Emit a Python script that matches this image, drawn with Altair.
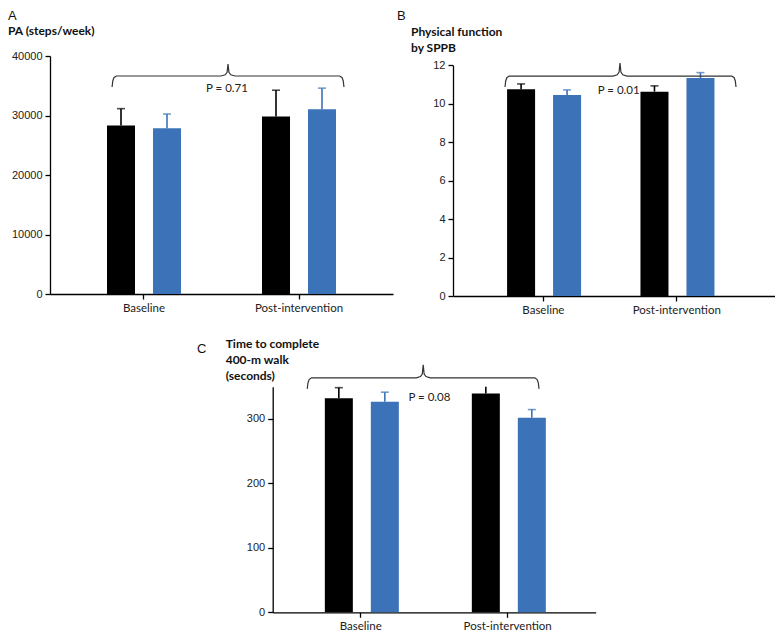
import altair as alt
import pandas as pd

# ---------------- data ----------------
categories = ["Baseline", "Post-intervention"]
groups = ["Group 1", "Group 2"]          # black, blue
bar_colors = ["#000000", "#3b72b8"]

# order: Baseline/G1, Baseline/G2, Post/G1, Post/G2
pa_values = [28300, 27850, 29850, 31050]
pa_err_top = [31150, 30250, 34250, 34600]
sppb_values = [10.75, 10.46, 10.63, 11.34]
sppb_err_top = [11.03, 10.72, 10.93, 11.62]
walk_values = [332, 326.5, 339.5, 302]
walk_err_top = [348.5, 341.5, 357, 314.5]

pa_ticks = [0, 10000, 20000, 30000, 40000]
sppb_ticks = [0, 2, 4, 6, 8, 10, 12]
walk_ticks = [0, 100, 200, 300]

# brace: x as fraction of axis width [left, mid, right]; y in data units [ends, line, peak]
pa_brace_x = [0.181, 0.519, 0.857]
pa_brace_y = [34790, 36640, 38660]
sppb_brace_x = [0.1615, 0.5186, 0.8789]
sppb_brace_y = [10.87, 11.44, 12.12]
walk_brace_x = [0.107, 0.466, 0.8245]
walk_brace_y = [346.7, 363.7, 383.8]

pa_p = ["P = 0.71", 0.516, 34450]
sppb_p = ["P = 0.01", 0.5146, 10.66]
walk_p = ["P = 0.08", 0.4854, 332]

# brace template: (u, weights over [end, line, peak])
tmpl_u = [0.0, 0.003, 0.008, 0.018, 0.47, 0.488, 0.496, 0.5]
tmpl_w = [(1, 0, 0), (0.45, 0.55, 0), (0.15, 0.85, 0), (0, 1, 0),
          (0, 1, 0), (0, 0.9, 0.1), (0, 0.7, 0.3), (0, 0, 1)]

TOTAL_W, TOTAL_H = 767, 626


def brace_df(bx, by):
    rows = []
    half = list(zip(tmpl_u, tmpl_w))
    full = half + [(1 - u, w) for u, w in reversed(half[:-1])]
    for i, (u, w) in enumerate(full):
        if u <= 0.5:
            x = bx[0] + (bx[1] - bx[0]) * (u / 0.5)
        else:
            x = bx[1] + (bx[2] - bx[1]) * ((u - 0.5) / 0.5)
        y = w[0] * by[0] + w[1] * by[1] + w[2] * by[2]
        rows.append({"i": i, "bx": x, "value": y})
    return pd.DataFrame(rows)


def panel(values, errs, domain, ticks, xrange, yrange, pi, po, align, sub_p,
          bx, by, ptxt):
    df = pd.DataFrame({
        "category": [categories[0], categories[0], categories[1], categories[1]],
        "group": [groups[0], groups[1], groups[0], groups[1]],
        "value": values,
        "err": errs,
    })
    ymax = domain[1]
    yscale = alt.Scale(domain=domain, nice=False, zero=True, range=yrange)
    yaxis = alt.Axis(title=None, values=ticks, format="d", orient="left",
                     offset=-xrange[0], labelFont="Liberation Sans",
                     labelFontSize=11, labelPadding=3, tickSize=5,
                     domainWidth=1.3, tickWidth=1.3)
    x = alt.X("category:N", sort=categories,
              scale=alt.Scale(paddingInner=pi, paddingOuter=po, align=align,
                              range=xrange),
              axis=alt.Axis(title=None, labelAngle=0, labelFont="Lato",
                            orient="bottom", offset=yrange[0] - TOTAL_H,
                            labelFontSize=11.5, tickSize=5, labelPadding=3,
                            domainWidth=1.3, tickWidth=1.3))
    xo = alt.XOffset("group:N", sort=groups,
                     scale=alt.Scale(paddingInner=sub_p, paddingOuter=0))
    color = alt.Color("group:N", scale=alt.Scale(domain=groups, range=bar_colors),
                      legend=None)
    base = alt.Chart(df).transform_calculate(
        err_shown=f"min(datum.err, {ymax})"
    ).encode(x=x, xOffset=xo, color=color)
    bars = base.mark_bar().encode(y=alt.Y("value:Q", scale=yscale, axis=yaxis))
    rule = base.mark_rule(strokeWidth=1.6).encode(
        y=alt.Y("value:Q", scale=yscale, axis=yaxis), y2="err_shown:Q")
    cap = base.mark_tick(size=8, thickness=1.6).encode(
        y=alt.Y("err:Q", scale=yscale, axis=yaxis)
    ).transform_filter(f"datum.err <= {ymax}")
    inner = alt.layer(bars, rule, cap)

    bscale = alt.Scale(domain=[0, 1], nice=False, zero=False, range=xrange)
    yscale2 = alt.Scale(domain=domain, nice=False, zero=True, range=yrange)
    brace = alt.Chart(brace_df(bx, by)).mark_line(
        color="#333333", strokeWidth=1.2).encode(
        x=alt.X("bx:Q", scale=bscale, axis=None),
        y=alt.Y("value:Q", scale=yscale2, axis=None),
        order="i:Q")
    pdf = pd.DataFrame({"t": [ptxt[0]], "bx": [ptxt[1]], "value": [ptxt[2]]})
    ptext = alt.Chart(pdf).mark_text(font="Lato", fontSize=11.5, color="#222222").encode(
        x=alt.X("bx:Q", scale=bscale, axis=None),
        y=alt.Y("value:Q", scale=yscale2, axis=None),
        text="t:N")
    return [inner, brace, ptext]


def label(text, xy, bold, size, line_h=15, font="Lato", baseline="top"):
    return alt.Chart(pd.DataFrame({"t": [text]})).mark_text(
        align="left", baseline=baseline, font=font,
        fontWeight="bold" if bold else "normal",
        fontSize=size, lineBreak="\n", lineHeight=line_h, color="#111111"
    ).encode(text="t:N", x=alt.value(xy[0]), y=alt.value(xy[1]))


# panel positions in chart pixels (page minus 8px margin)
A = panel(pa_values, pa_err_top, [0, 40000], pa_ticks, [42, 385], [286, 48],
          0.5226, 0.3677, 0.5, 0.391, pa_brace_x, pa_brace_y, pa_p)
B = panel(sppb_values, sppb_err_top, [0, 12], sppb_ticks, [445, 767], [288, 57.3],
          0.456, 0.435, 0.466, 0.372, sppb_brace_x, sppb_brace_y, sppb_p)
C = panel(walk_values, walk_err_top, [0, 350], walk_ticks, [264.7, 587.7], [604.3, 378.7],
          0.512, 0.3547, 0.5, 0.384, walk_brace_x, walk_brace_y, walk_p)

texts = [
    label("A", (0, 12), False, 13, font="Liberation Sans", baseline="alphabetic"),
    label("PA (steps/week)", (0, 17.5), True, 12),
    label("B", (389, 12), False, 13, font="Liberation Sans", baseline="alphabetic"),
    label("Physical function\nby SPPB", (403, 19), True, 12, 15.5),
    label("C", (189, 345), False, 13, font="Liberation Sans", baseline="alphabetic"),
    label("Time to complete\n400-m walk\n(seconds)", (217.7, 331), True, 12, 16),
]

chart = alt.layer(*(A + B + C + texts)).resolve_scale(
    x="independent", y="independent"
).properties(
    width=TOTAL_W, height=TOTAL_H, padding=0,
    autosize=alt.AutoSizeParams(type="none"),
).configure_view(stroke=None).configure_axis(
    grid=False, domainColor="#000000", tickColor="#000000", labelColor="#222222"
)

chart.save("out.html", embed_options={"renderer": "svg", "actions": False})
